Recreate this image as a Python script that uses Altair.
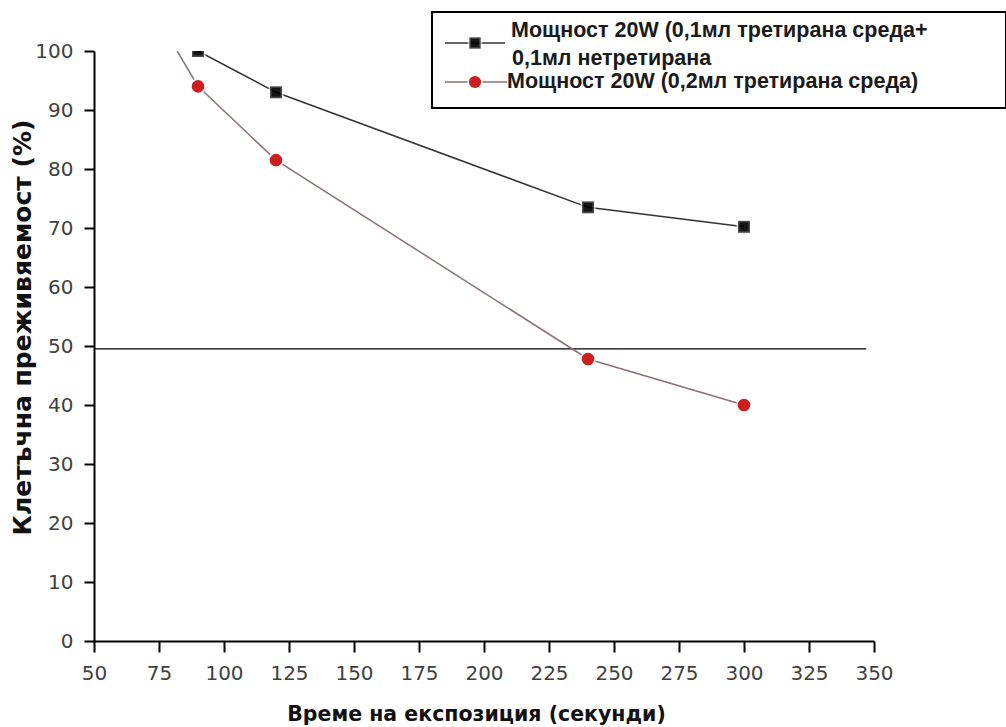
import altair as alt
import pandas as pd

# ---- data ----
times = [90, 120, 240, 300]
black_vals = [100, 93, 73.5, 70.2]
red_vals = [94, 81.5, 47.8, 40]
red_line_start_x = [82]
red_line_start_y = [100]
ref_level = [49.5]
ref_x = [50, 347]

label_a1 = "Мощност 20W (0,1мл третирана среда+"
label_a2 = "0,1мл нетретирана"
label_b = "Мощност 20W (0,2мл третирана среда)"

x_ticks = [50 + 12.5 * i for i in range(25)]
y_ticks = [5 * i for i in range(21)]

W, H = 780, 590
FONT = "Liberation Sans"
TFONT = "DejaVu Sans"

black_df = pd.DataFrame({"t": times, "v": black_vals})
red_pts_df = pd.DataFrame({"t": times, "v": red_vals})
red_line_df = pd.DataFrame({"t": red_line_start_x + times, "v": red_line_start_y + red_vals})
ref_df = pd.DataFrame({"t": [ref_x[0]], "t2": [ref_x[1]], "v": ref_level})

xscale = alt.Scale(domain=[50, 350], nice=False, zero=False)
yscale = alt.Scale(domain=[0, 100], nice=False)

xaxis = alt.Axis(
    title="Време на експозиция (секунди)",
    values=x_ticks,
    labelExpr="datum.value % 25 === 0 ? datum.label : ''",
    format="d",
    grid=False,
    domainColor="black", domainWidth=2,
    tickColor="black", tickWidth=2,
    tickSize={"condition": {"test": "datum.value % 25 === 0", "value": 11}, "value": 6},
    labelFont=TFONT, labelFontSize=20, labelColor="#404040", labelPadding=11,
    titleFont=TFONT, titleFontSize=20.5, titleFontWeight="bold", titleColor="#111",
    titleX=382, titleY=73, titleAlign="center", titleBaseline="middle",
    labelFlush=False,
)
yaxis = alt.Axis(
    title="Клетъчна преживяемост (%)",
    values=y_ticks,
    labelExpr="datum.value % 10 === 0 ? datum.label : ''",
    format="d",
    grid=False,
    domainColor="black", domainWidth=2,
    tickColor="black", tickWidth=2,
    tickSize={"condition": {"test": "datum.value % 10 === 0", "value": 10}, "value": 6},
    labelFont=TFONT, labelFontSize=20, labelColor="#404040", labelPadding=11,
    titleFont=TFONT, titleFontSize=25, titleFontWeight="bold", titleColor="#111",
    titleX=-72, titleY=276, titleAlign="center", titleBaseline="middle", titleAngle=270,
    labelFlush=False,
)

X = alt.X("t:Q", scale=xscale, axis=xaxis)
Y = alt.Y("v:Q", scale=yscale, axis=yaxis)
Xn = alt.X("t:Q", scale=xscale)
Yn = alt.Y("v:Q", scale=yscale)

ref = alt.Chart(ref_df).mark_rule(color="black", strokeWidth=1.2).encode(x=X, x2="t2:Q", y=Y)

black_line = alt.Chart(black_df).mark_line(color="#333333", strokeWidth=1.5, clip=True).encode(x=Xn, y=Yn)
red_line = alt.Chart(red_line_df).mark_line(color="#8a7272", strokeWidth=1.5, clip=True).encode(x=Xn, y=Yn)

black_pts = alt.Chart(black_df).mark_point(
    shape="square", filled=True, color="black", size=144, stroke="white", strokeWidth=3,
    strokeOpacity=1, clip=True
).encode(x=Xn, y=Yn)
black_pts2 = alt.Chart(black_df).mark_point(
    shape="square", filled=True, color="black", size=144, clip=True
).encode(x=Xn, y=Yn)
red_pts = alt.Chart(red_pts_df).mark_circle(
    color="#cc1f1f", size=160, opacity=1, stroke="white", strokeWidth=3, clip=True
).encode(x=Xn, y=Yn)
red_pts2 = alt.Chart(red_pts_df).mark_circle(
    color="#cc1f1f", size=160, opacity=1, clip=True
).encode(x=Xn, y=Yn)

# ---- legend (drawn by hand, positioned relative to plot area) ----
box = alt.Chart(ref_df).mark_rect(fill="white", stroke="black", strokeWidth=2).encode(
    x=alt.value(338), x2=alt.value(912), y=alt.value(-39), y2=alt.value(57)
)
leg_line_a = alt.Chart(ref_df).mark_rule(color="#333333", strokeWidth=1.5).encode(
    x=alt.value(351), x2=alt.value(411), y=alt.value(-8)
)
leg_sym_a = alt.Chart(ref_df).mark_point(
    shape="square", filled=True, color="black", size=130, stroke="white", strokeWidth=3
).encode(x=alt.value(381), y=alt.value(-8))
leg_sym_a2 = alt.Chart(ref_df).mark_point(
    shape="square", filled=True, color="black", size=130
).encode(x=alt.value(381), y=alt.value(-8))
leg_line_b = alt.Chart(ref_df).mark_rule(color="#8a7272", strokeWidth=1.5).encode(
    x=alt.value(351), x2=alt.value(413), y=alt.value(31)
)
leg_sym_b = alt.Chart(ref_df).mark_circle(
    color="#cc1f1f", size=150, opacity=1, stroke="white", strokeWidth=3
).encode(x=alt.value(381), y=alt.value(31))
leg_sym_b2 = alt.Chart(ref_df).mark_circle(color="#cc1f1f", size=150, opacity=1).encode(
    x=alt.value(381), y=alt.value(31)
)

def leg_text(txt, x, y):
    return alt.Chart(ref_df).mark_text(
        text=txt, align="left", baseline="middle", font=FONT, fontSize=21.5,
        fontWeight="bold", color="#1a1a1a"
    ).encode(x=alt.value(x), y=alt.value(y))

t1 = leg_text(label_a1, 417, -20)
t2 = leg_text(label_a2, 418, 8)
t3 = leg_text(label_b, 413, 31)

chart = alt.layer(
    ref, red_line, black_line, red_pts, red_pts2, black_pts, black_pts2,
    box, leg_line_a, leg_sym_a, leg_sym_a2, leg_line_b, leg_sym_b, leg_sym_b2, t1, t2, t3,
).properties(
    width=W, height=H,
    autosize=alt.AutoSizeParams(type="none"),
    padding={"left": 94, "top": 51, "right": 132, "bottom": 86},
    background="white",
).configure_view(stroke=None)

chart.save("out.html", embed_options={"renderer": "svg", "actions": False})
